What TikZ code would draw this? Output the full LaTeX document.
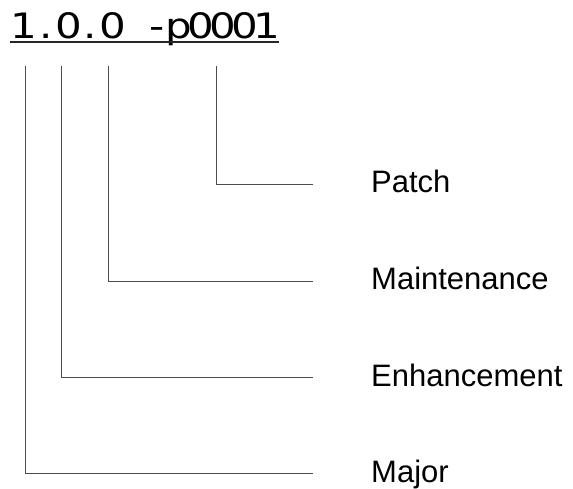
\documentclass[tikz,border=0pt]{standalone}
\usepackage{fontspec}
\usepackage{graphicx}
\setmainfont{Liberation Sans}
\newfontfamily\titlefont{DejaVu Sans}
\newcommand{\mc}[1]{\makebox[22.1pt][c]{\scalebox{1.2}[1]{#1}}}
\begin{document}
\begin{tikzpicture}[x=1pt,y=1pt,
  conn/.style={draw=black!70, line width=1pt},
  lab/.style={anchor=base west, inner sep=0pt, font=\fontsize{31}{34}\selectfont},
  ttl/.style={anchor=base west, inner sep=0pt, font=\titlefont\fontsize{35}{40}\selectfont}]
\useasboundingbox (0,0) rectangle (573,489);
% title
\node[ttl] (title) at (13,450.5) {\mc{1}\mc{.}\mc{0}\mc{.}\mc{0}\mc{ }\mc{-}\mc{p}\mc{0}\mc{0}\mc{0}\mc{1}};
\coordinate (ulA) at (10,447.3);
\coordinate (ulB) at (279,447.3);
\draw[line width=2pt, black!85] (ulA) -- (ulB);
% labels
\node[lab] (patch) at (371,296) {Patch};
\node[lab] (maint) at (371,199) {Maintenance};
\node[lab] (enh) at (371,102) {Enhancement};
\node[lab] (major) at (371,6.5) {Major};
% line tops
\coordinate (tMajor) at (25,423);
\coordinate (tEnh) at (61,423);
\coordinate (tMaint) at (108,423);
\coordinate (tPatch) at (216,423);
% line ends
\coordinate (ePatch) at (313,304);
\coordinate (eMaint) at (313,207);
\coordinate (eEnh) at (313,111);
\coordinate (eMajor) at (313,15);
\draw[conn] (tPatch) |- (ePatch);
\draw[conn] (tMaint) |- (eMaint);
\draw[conn] (tEnh) |- (eEnh);
\draw[conn] (tMajor) |- (eMajor);
\end{tikzpicture}
\end{document}
